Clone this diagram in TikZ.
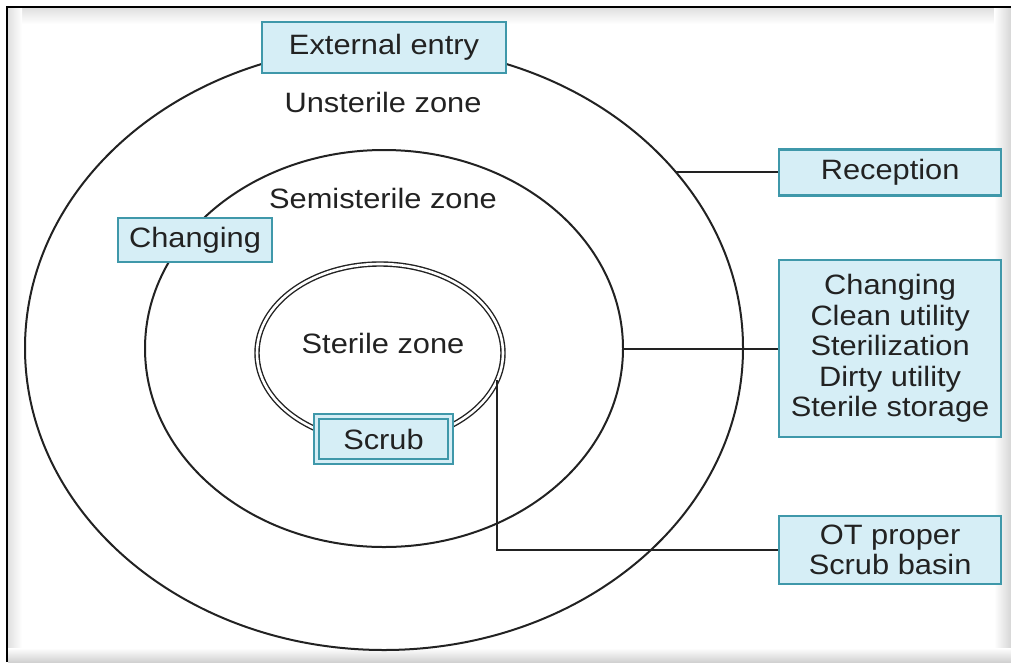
\documentclass[tikz,border=0pt]{standalone}
\usepackage{fontspec}
\setmainfont{Liberation Sans}[FakeStretch=1.1]
\usetikzlibrary{shapes.geometric}
\definecolor{boxfill}{HTML}{D6EEF6}
\definecolor{boxline}{HTML}{3F98AA}
\definecolor{ink}{HTML}{222222}

\begin{document}
\begin{tikzpicture}[x=1pt,y=-1pt,
  zone/.style={ellipse, draw=ink, line width=2pt, inner sep=0pt, outer sep=0pt},
  roombox/.style={rectangle, draw=boxline, fill=boxfill, line width=2.2pt,
    inner sep=0pt, align=center, font=\fontsize{28}{30.5}\selectfont, text=ink},
  zonelabel/.style={font=\fontsize{28}{30}\selectfont, text=ink},
  link/.style={draw=ink, line width=2pt}]
\useasboundingbox (0,0) rectangle (1011,662);

% page frame with soft edges
\shade[top color=black!12, bottom color=white] (8,8) rectangle (1011,24);
\shade[left color=black!12, right color=white] (8,8) rectangle (22,662);
\shade[left color=white, right color=black!16] (994,8) rectangle (1011,662);
\shade[top color=white, bottom color=black!18] (8,648) rectangle (1011,662);
\draw[line width=2pt, black] (7,662) -- (7,7) -- (1011,7);

% zones
\node[zone, minimum width=718pt, minimum height=604pt] (outer) at (384,348) {};
\node[zone, minimum width=478pt, minimum height=397pt] (semi) at (384,348.5) {};
\node[zone, double=white, double distance=2.6pt, line width=1.4pt,
      minimum width=246pt, minimum height=178pt] (ster) at (380,353) {};

\node[zonelabel] (ulab) at (383,102) {Unsterile zone};
\node[zonelabel] (slab) at (383,198) {Semisterile zone};
\node[zonelabel] (stlab) at (383,343) {Sterile zone};

% rooms on the zone borders
\node[roombox, minimum width=244pt, minimum height=51pt] (ext) at (384,47.5) {External entry};
\node[roombox, minimum width=154pt, minimum height=44pt] (chg) at (195,240) {Changing};
\node[roombox, double=boxfill, double distance=3pt, line width=1.6pt,
      minimum width=134pt, minimum height=45pt] (scrub) at (383.5,439) {Scrub};

% side boxes
\coordinate (rcol) at (778,0);
\node[roombox, anchor=west, minimum width=222pt, minimum height=46pt]
  (rec) at (outer.31.3 -| rcol) {Reception};
\node[roombox, anchor=west, minimum width=222pt, minimum height=177pt]
  (list) at (semi.east -| rcol) {Changing\\Clean utility\\Sterilization\\Dirty utility\\Sterile storage};
\node[roombox, anchor=west, minimum width=222pt, minimum height=68pt]
  (ot) at (778,550) {OT proper\\Scrub basin};

% connectors
\draw[link] (outer.31.3) -- (rec.west);
\draw[link] (semi.east) -- (list.west);
\draw[link] (ster.-13) |- (ot.west);
\end{tikzpicture}
\end{document}
